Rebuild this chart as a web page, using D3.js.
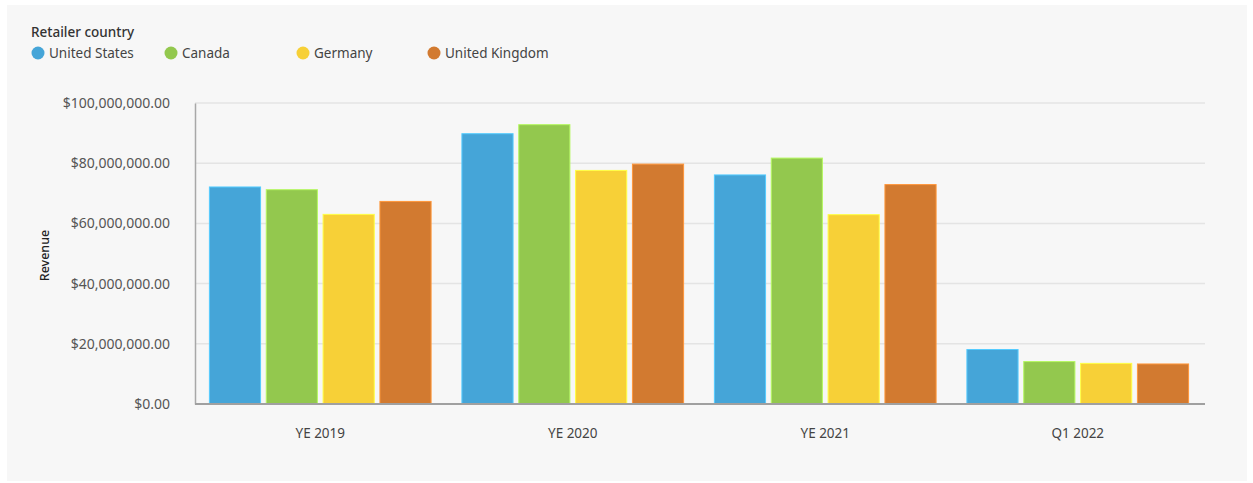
<!DOCTYPE html>
<html>
<head>
<meta charset="utf-8">
<script src="https://cdn.jsdelivr.net/npm/d3@7"></script>
<style>
  html, body { margin: 0; padding: 0; background: #ffffff; }
  svg { display: block; }
  text { font-family: "Noto Sans", "Open Sans", sans-serif; }
</style>
</head>
<body>
<svg id="chart" width="1253" height="483"></svg>
<script>
const categories = ["YE 2019", "YE 2020", "YE 2021", "Q1 2022"];
const seriesNames = ["United States", "Canada", "Germany", "United Kingdom"];
const unitedStates = [72.1e6, 89.8e6, 76.1e6, 18.1e6];
const canada = [71.2e6, 92.8e6, 81.7e6, 14.1e6];
const germany = [63.0e6, 77.6e6, 62.9e6, 13.5e6];
const unitedKingdom = [67.3e6, 79.7e6, 72.9e6, 13.3e6];
const yTicks = [0, 20e6, 40e6, 60e6, 80e6, 100e6];
const colors = ["#45a5d8", "#93c84e", "#f7d037", "#d27a30"];

const seriesValues = [unitedStates, canada, germany, unitedKingdom];

const svg = d3.select("#chart");

// panel background
svg.append("rect").attr("x", 7).attr("y", 5).attr("width", 1240).attr("height", 476).attr("fill", "#f7f7f7");

const plot = { left: 195, right: 1205, top: 103, bottom: 404 };

const x0 = d3.scaleBand().domain(categories).range([plot.left - 1, plot.right - 1]).paddingInner(0.122).paddingOuter(0.061);
const x1 = d3.scaleBand().domain(seriesNames).range([0, x0.bandwidth()]).paddingInner(0.1).paddingOuter(0);
const y = d3.scaleLinear().domain([0, 100e6]).range([plot.bottom, plot.top]);
const color = d3.scaleOrdinal().domain(seriesNames).range(colors);

// gridlines
svg.append("g").selectAll("line").data(yTicks.filter(t => t > 0)).join("line")
  .attr("x1", plot.left).attr("x2", plot.right)
  .attr("y1", d => y(d)).attr("y2", d => y(d))
  .attr("stroke", "#e4e4e4").attr("stroke-width", 1.5);

// y axis
const fmt = d => "$" + d3.format(",.2f")(d);
const yAxis = svg.append("g").attr("transform", `translate(${plot.left},0)`)
  .call(d3.axisLeft(y).tickValues(yTicks).tickFormat(fmt).tickSize(0).tickPadding(25));
yAxis.select(".domain").attr("stroke", "#a8a8a8").attr("stroke-width", 1.5);
yAxis.selectAll("text").attr("fill", "#555").style("font-size", "14px");

// bars
const groups = svg.append("g").selectAll("g").data(categories).join("g")
  .attr("transform", d => `translate(${x0(d)},0)`);
groups.selectAll("rect").data((d, i) => seriesNames.map((s, j) => ({ s, v: seriesValues[j][i] }))).join("rect")
  .attr("x", d => x1(d.s))
  .attr("width", x1.bandwidth())
  .attr("y", d => y(d.v))
  .attr("height", d => y(0) - y(d.v))
  .attr("fill", d => color(d.s))
  .attr("stroke", d => d3.color(color(d.s)).brighter(0.6))
  .attr("stroke-width", 1);

// x axis
const xAxis = svg.append("g").attr("transform", `translate(0,${plot.bottom})`)
  .call(d3.axisBottom(x0).tickSize(0).tickPadding(24));
xAxis.select(".domain").remove();
xAxis.selectAll("text").attr("fill", "#444").style("font-size", "13.5px");
svg.append("line").attr("x1", plot.left).attr("x2", plot.right)
  .attr("y1", plot.bottom).attr("y2", plot.bottom)
  .attr("stroke", "#a0a0a0").attr("stroke-width", 2);

// y label
svg.append("text").attr("transform", `translate(49,${(plot.top + plot.bottom) / 2 + 2}) rotate(-90)`)
  .attr("text-anchor", "middle").attr("fill", "#222").style("font-size", "12.5px").style("font-weight", "500")
  .text("Revenue");

// legend
svg.append("text").attr("x", 31).attr("y", 37).attr("fill", "#333").style("font-size", "13.5px").style("font-weight", "500")
  .text("Retailer country");
const legendX = [38, 171, 303, 434];
const leg = svg.append("g").selectAll("g").data(seriesNames).join("g")
  .attr("transform", (d, i) => `translate(${legendX[i]},53)`);
leg.append("circle").attr("r", 6.5).attr("fill", d => color(d));
leg.append("text").attr("x", 11).attr("y", 5).attr("fill", "#444").style("font-size", "13.5px").text(d => d);
</script>
</body>
</html>
